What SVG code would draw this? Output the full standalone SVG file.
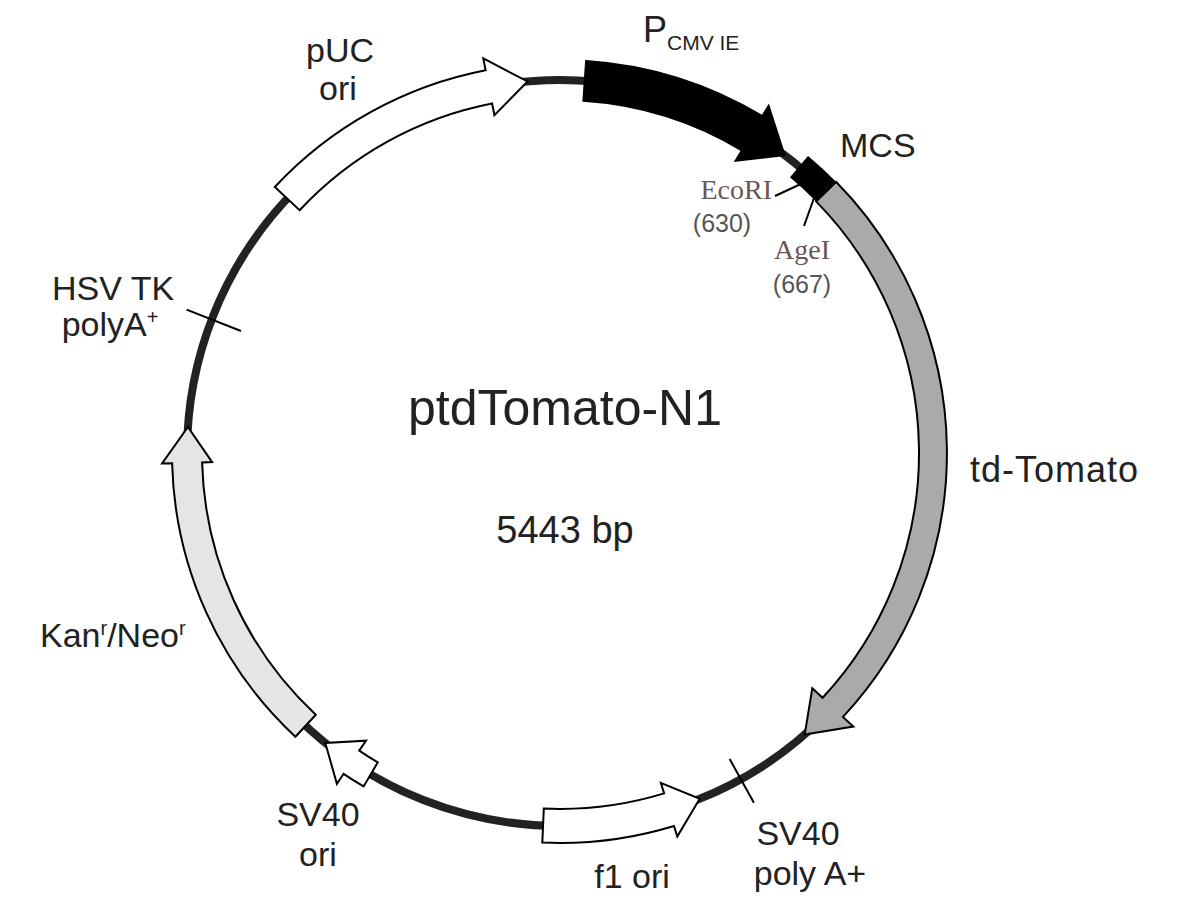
<svg xmlns="http://www.w3.org/2000/svg" width="1189" height="901" viewBox="0 0 1189 901">
<style>
.t{font-family:"Liberation Sans",Arial,sans-serif;fill:#222;font-size:34px}
.c{text-anchor:middle}
.s{font-family:"Liberation Serif",serif;fill:#6a5555;font-size:28px}
.n{font-family:"Liberation Sans",sans-serif;fill:#555;font-size:25px;text-anchor:middle}
.f{stroke:#000;stroke-width:2;stroke-linejoin:miter}
.sup{font-size:20px}
</style>
<rect width="1189" height="901" fill="#fff"/>
<g id="backbone"><circle cx="560" cy="453" r="373" fill="none" stroke="#222" stroke-width="8"/></g>
<g id="connectors" stroke="#000" stroke-width="2">
<line x1="729.7" y1="759.1" x2="753.9" y2="802.8"/>
<line x1="186.6" y1="309.6" x2="241" y2="331"/>
<line x1="775" y1="196" x2="803" y2="183"/>
<line x1="804" y1="226" x2="814" y2="198"/>
</g>
<g id="cmv"><path class="f" fill="#000" d="M586.1,60.9 A393 393 0 0 1 762.4,116.1 L768.6,105.8 L784.5,155.1 L735.6,160.7 L741.8,150.4 A353 353 0 0 0 583.4,100.8 Z"/></g>
<g id="tdtomato"><path class="f" fill="#aaa" d="M836.0,181.8 A387 387 0 0 1 843.0,716.9 L853.3,726.5 L804.7,734.5 L812.3,688.3 L822.6,697.8 A359 359 0 0 0 816.1,201.4 Z"/></g>
<g id="mcs"><path class="f" fill="#000" d="M808.1,157.3 A386 386 0 0 1 835.3,182.5 L816.8,200.7 A360 360 0 0 0 791.4,177.2 Z"/></g>
<g id="f1ori"><path class="f" fill="#fff" d="M542.3,842.6 A390 390 0 0 0 674.0,826.0 L677.3,836.5 L699.7,798.8 L660.9,782.9 L664.1,793.4 A356 356 0 0 1 543.8,808.6 Z"/></g>
<g id="sv40ori"><path class="f" fill="#fff" d="M363.6,786.4 A387 387 0 0 1 343.6,773.8 L336.9,783.8 L325.3,742.9 L366.0,740.7 L359.2,750.6 A359 359 0 0 0 377.8,762.3 Z"/></g>
<g id="kan"><path class="f" fill="#e5e5e5" d="M295.4,736.8 A388 388 0 0 1 172.1,463.2 L162.1,463.4 L187.9,427.0 L212.1,462.1 L202.1,462.4 A358 358 0 0 0 315.8,714.8 Z"/></g>
<g id="puc"><path class="f" fill="#fff" d="M274.8,187.0 A390 390 0 0 1 485.6,70.2 L483.3,58.4 L527.5,81.4 L494.4,115.3 L492.1,103.5 A356 356 0 0 0 299.6,210.2 Z"/></g>
<g id="labels">
<text class="t" x="643" y="42" style="font-size:36px">P<tspan style="font-size:21px" dy="8">CMV IE</tspan></text>
<text class="t" x="840" y="157">MCS</text>
<text class="s" x="772" y="199" text-anchor="end">EcoRI</text>
<text class="n" x="722" y="232">(630)</text>
<text class="s" x="802" y="259" text-anchor="middle">AgeI</text>
<text class="n" x="802" y="293">(667)</text>
<text class="t" x="970" y="482" style="font-size:36px;letter-spacing:1px">td-Tomato</text>
<text class="t c" x="798" y="845">SV40</text>
<text class="t c" x="810" y="885">poly A+</text>
<text class="t c" x="632" y="888">f1 ori</text>
<text class="t c" x="318" y="826">SV40</text>
<text class="t c" x="318" y="866">ori</text>
<text class="t" x="40" y="647">Kan<tspan class="sup" dy="-12">r</tspan><tspan dy="12">/Neo</tspan><tspan class="sup" dy="-12">r</tspan></text>
<text class="t c" x="113" y="300">HSV TK</text>
<text class="t c" x="110" y="336">polyA<tspan class="sup" dy="-12">+</tspan></text>
<text class="t c" x="340" y="62">pUC</text>
<text class="t c" x="338" y="100">ori</text>
<text class="t c" x="565" y="425" style="font-size:50px">ptdTomato-N1</text>
<text class="t c" x="565" y="543" style="font-size:38px">5443 bp</text>
</g>
</svg>
